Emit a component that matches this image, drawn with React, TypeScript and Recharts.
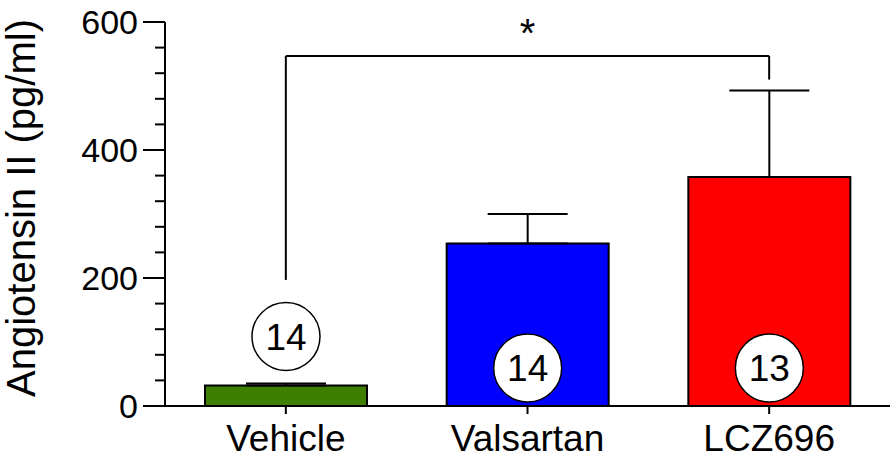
import { BarChart, Bar, XAxis, YAxis, ErrorBar, Cell, LabelList, ReferenceLine, Label } from 'recharts';

const groups = ['Vehicle', 'Valsartan', 'LCZ696'];
const means = [32, 254, 358];
const sems = [3, 46, 135];
const counts = [14, 14, 13];
const yTicks = [0, 40, 80, 120, 160, 200, 240, 280, 320, 360, 400, 440, 480, 520, 560, 600];
const majorTicks = [0, 200, 400, 600];

// bracket for the significance marker (data units)
const bracketFrom = 'Vehicle';
const bracketTo = 'LCZ696';
const bracketTop = 547;
const bracketLeftFoot = 197;
const bracketRightFoot = 510;

const COLORS = ['#3f7f00', '#0000ff', '#ff0000'];
const FONT = '"Liberation Sans", Arial, Helvetica, sans-serif';

const data = groups.map((g, i) => ({ name: g, mean: means[i], err: [0, sems[i]], n: counts[i] }));

const YTick = ({ x, y, payload }: any) => {
  const major = majorTicks.includes(payload.value);
  return (
    <g>
      <line x1={x - (major ? 22 : 10)} x2={x} y1={y} y2={y} stroke="#000" strokeWidth={2} />
      {major && (
        <text x={x - 27} y={y} dy="0.36em" textAnchor="end" fontSize={34} fontFamily={FONT} fill="#000">
          {payload.value}
        </text>
      )}
    </g>
  );
};

const CountBadge = ({ x, y, width, height, value }: any) => {
  const cx = x + width / 2;
  const bottom = y + height;
  const cy = height < 80 ? y - 49 : bottom - 38;
  return (
    <g>
      <circle cx={cx} cy={cy} r={34} fill="#fff" stroke="#000" strokeWidth={1.5} />
      <text x={cx} y={cy} dy="0.36em" textAnchor="middle" fontSize={37} fontFamily={FONT} fill="#000">
        {value}
      </text>
    </g>
  );
};

const YLabel = () => (
  <text
    x={35}
    y={208}
    transform="rotate(-90, 35, 208)"
    textAnchor="middle"
    fontSize={40}
    fontFamily={FONT}
    fill="#000"
  >
    Angiotensin II (pg/ml)
  </text>
);

export default function App() {
  return (
    <div style={{ width: 895, height: 460, background: '#fff' }}>
      <style>{'body{margin:0}'}</style>
      <BarChart width={895} height={460} data={data} margin={{ top: 22, right: 5, bottom: 0, left: 0 }}>
        <XAxis
          dataKey="name"
          height={54}
          axisLine={{ stroke: '#000', strokeWidth: 2 }}
          tickLine={{ stroke: '#000', strokeWidth: 2 }}
          tickSize={8}
          tickMargin={11}
          tick={{ fill: '#000', fontSize: 37, fontFamily: FONT }}
          interval={0}
        />
        <YAxis
          type="number"
          domain={[0, 600]}
          ticks={yTicks}
          width={165}
          interval={0}
          tickLine={false}
          tickSize={0}
          tickMargin={0}
          axisLine={{ stroke: '#000', strokeWidth: 2 }}
          tick={<YTick />}
          label={<YLabel />}
        />
        <Bar dataKey="mean" barSize={162} stroke="#000" strokeWidth={2} isAnimationActive={false}>
          {data.map((_, i) => (
            <Cell key={`c-${i}`} fill={COLORS[i % COLORS.length]} />
          ))}
          <ErrorBar dataKey="err" direction="y" width={40} stroke="#000" strokeWidth={2} />
          <LabelList dataKey="n" content={<CountBadge />} />
        </Bar>
        <ReferenceLine
          segment={[{ x: bracketFrom, y: bracketLeftFoot }, { x: bracketFrom, y: bracketTop }]}
          stroke="#000"
          strokeWidth={2}
        />
        <ReferenceLine
          segment={[{ x: bracketFrom, y: bracketTop }, { x: bracketTo, y: bracketTop }]}
          stroke="#000"
          strokeWidth={2}
        >
          <Label value="*" position="top" offset={9} fontSize={40} fontFamily={FONT} fill="#000" />
        </ReferenceLine>
        <ReferenceLine
          segment={[{ x: bracketTo, y: bracketRightFoot }, { x: bracketTo, y: bracketTop }]}
          stroke="#000"
          strokeWidth={2}
        />
      </BarChart>
    </div>
  );
}
